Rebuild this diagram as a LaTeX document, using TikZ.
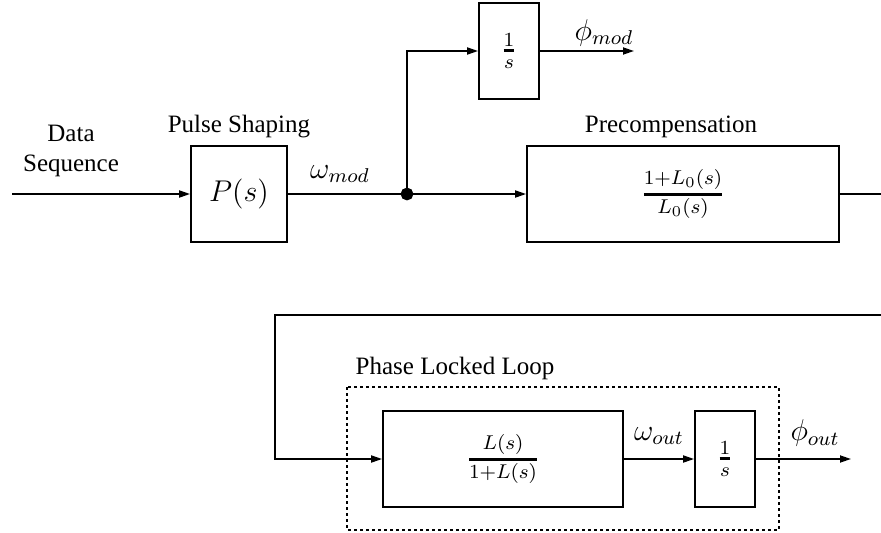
\documentclass[tikz,border=0pt]{standalone}
\usepackage{amsmath}
\usepackage{fontspec}
\setmainfont{Liberation Serif}
\usetikzlibrary{arrows.meta}

\begin{document}
\begin{tikzpicture}[x=0.4pt, y=-0.4pt, line width=0.7pt,
		>={Triangle[length=4.4pt,width=2.8pt]},
		bloque/.style={draw, minimum height=38.4pt, inner sep=0pt, font=\large},
		senal/.style={font=\large, inner sep=0pt},
		titulo/.style={inner sep=0pt}]
		\useasboundingbox (0,0) rectangle (881,533);
		
		% Bloques de la rama superior
		\node[bloque, minimum width=38.4pt] (pulso) at (239,194) {$P(s)$};
		\node[bloque, minimum width=24pt] (intmod) at (509,51) {$\genfrac{}{}{1pt}{}{1}{s}$};
		\node[bloque, minimum width=124.8pt] (precomp) at (683,194) {$\genfrac{}{}{1.2pt}{}{1+L_0(s)}{L_0(s)}$};
		
		% Bloques del lazo
		\node[bloque, minimum width=96pt] (lazo) at (503,459) {$\genfrac{}{}{1.2pt}{}{L(s)}{1+L(s)}$};
		\node[bloque, minimum width=24pt] (intout) at (725,459) {$\genfrac{}{}{1pt}{}{1}{s}$};
		\draw[dash pattern=on 1.2pt off 1.2pt] (347,387) rectangle (779,530);
		
		\coordinate (entrada) at (12,194);
		\coordinate (nodo) at (407,194);
		\coordinate (phimod) at (634,51);
		\coordinate (salidaA) at (881,194);
		\coordinate (retornoA) at (881,315);
		\coordinate (retornoB) at (275,315);
		\coordinate (phiout) at (851,459);
		
		\draw[->] (entrada) -- (pulso);
		\draw (pulso) -- (nodo);
		\draw[->] (nodo) -- (precomp);
		\draw[->] (nodo) |- (intmod);
		\draw[->] (intmod) -- (phimod);
		\draw (precomp) -- (salidaA);
		\draw[->] (retornoA) -- (retornoB) |- (lazo);
		\draw[->] (lazo) -- (intout);
		\draw[->] (intout) -- (phiout);
		\filldraw (nodo) circle (2.2pt);
		
		% Textos
		\node[titulo, align=center] (datos) at (71,151) {Data\\Sequence};
		\node[titulo] (tpulso) at (239,127) {Pulse Shaping};
		\node[titulo] (tprecomp) at (671,127) {Precompensation};
		\node[titulo] (tlazo) at (455,368) {Phase Locked Loop};
		\node[senal] (wmod) at (340,174) {$\omega_{mod}$};
		\node[senal] (fmod) at (604,33) {$\phi_{mod}$};
		\node[senal] (wout) at (659,436) {$\omega_{out}$};
		\node[senal] (fout) at (815,433) {$\phi_{out}$};
\end{tikzpicture}
\end{document}
